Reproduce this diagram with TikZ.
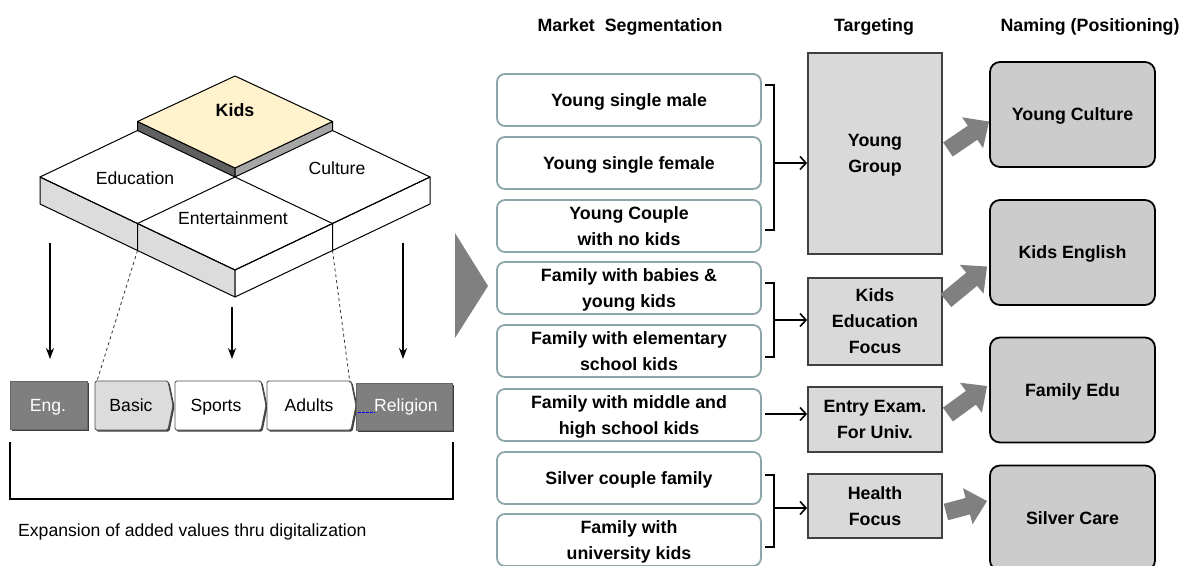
\documentclass[tikz,border=0pt]{standalone}
\usepackage{fontspec}
\setmainfont{Liberation Sans}
\usetikzlibrary{arrows.meta,calc}
\definecolor{segb}{HTML}{8CA5A8}
\definecolor{tgfill}{HTML}{D9D9D9}
\definecolor{tgdraw}{HTML}{404040}
\definecolor{nmfill}{HTML}{CCCCCC}
\definecolor{bigarrowc}{HTML}{808080}
\definecolor{kidsfill}{HTML}{FFF2CC}
\definecolor{sidegray}{HTML}{DCDCDC}
\definecolor{darkbox}{HTML}{7F7F7F}
\definecolor{kidsdark}{HTML}{606060}
\definecolor{kidsmid}{HTML}{A6A6A6}
\newcommand\mybf{\fontsize{17.8}{26}\selectfont\bfseries}
\newcommand\myrg{\fontsize{17.6}{22}\selectfont}
\tikzset{
  seg/.style={draw=segb, line width=1.8pt, rounded corners=8pt, fill=white,
    minimum width=264pt, minimum height=52pt, align=center, font=\mybf, inner sep=0pt, text depth=0pt},
  tgt/.style={draw=tgdraw, line width=1.8pt, fill=tgfill, minimum width=134pt,
    align=center, font=\mybf, inner sep=0pt, text depth=0pt},
  nm/.style={draw=black, line width=1.8pt, rounded corners=10pt, fill=nmfill,
    minimum width=165pt, minimum height=105pt, align=center, font=\mybf, inner sep=0pt, text depth=0pt},
  hdr/.style={font=\mybf, inner sep=0pt, text depth=0pt},
  lbl/.style={font=\myrg, inner sep=0pt, text depth=0pt},
  bracket/.style={line width=1.6pt},
  brarrow/.style={line width=1.6pt, -{Straight Barb[length=6pt,width=13pt]}},
  bigarrow/.style={line width=17pt, draw=bigarrowc, -{Triangle[length=20pt,width=36pt]}},
  downarr/.style={line width=1.8pt, -{Stealth[length=11pt,width=8pt]}},
  face/.style={draw=black, line width=1pt, line join=round},
  chev/.style={draw=black!70, line width=0.9pt, rounded corners=1.5pt},
  chevshadow/.style={fill=black!75, rounded corners=1.5pt},
}
\begin{document}
\begin{tikzpicture}[x=1pt,y=-1pt]
\useasboundingbox (0,0) rectangle (1190,565);

% ---------- isometric block ----------
\fill[white] (40,177) -- (235,84) -- (430,177) -- (235,270) -- cycle;
\filldraw[face, fill=sidegray] (40,177) -- (137.5,223.5) -- (137.5,250.5) -- (40,204) -- cycle;
\filldraw[face, fill=sidegray] (137.5,223.5) -- (235,270) -- (235,297) -- (137.5,250.5) -- cycle;
\filldraw[face, fill=white] (235,270) -- (332.5,223.5) -- (332.5,250.5) -- (235,297) -- cycle;
\filldraw[face, fill=white] (332.5,223.5) -- (430,177) -- (430,204) -- (332.5,250.5) -- cycle;
\draw[face] (40,177) -- (235,84) -- (430,177) -- (235,270) -- cycle;
\draw[face] (235,177) -- (137.5,223.5);
\draw[face] (235,177) -- (332.5,223.5);
\filldraw[face, fill=kidsdark] (137.5,121.5) -- (235,168) -- (235,177) -- (137.5,130.5) -- cycle;
\filldraw[face, fill=kidsmid] (235,168) -- (332.5,121.5) -- (332.5,130.5) -- (235,177) -- cycle;
\filldraw[face, fill=kidsfill] (137.5,121.5) -- (235,76) -- (332.5,121.5) -- (235,168) -- cycle;

\node[lbl, font=\mybf] (kids) at (235,110) {Kids};
\node[lbl] (edu) at (135,178) {Education};
\node[lbl] (cul) at (337,168) {Culture};
\node[lbl] (ent) at (233,218) {Entertainment};

% ---------- bottom row ----------
\fill[black!75] (11.5,382.5) rectangle (88.5,430.5);
\filldraw[draw=black!60, line width=0.8pt, fill=darkbox] (10,381) rectangle (87,429);
\node[lbl, text=white] (eng) at (48,405) {Eng.};

\fill[chevshadow] (96.5,382.5) -- (169.5,382.5) -- (174.5,406.5) -- (169.5,431.5) -- (96.5,431.5) -- cycle;
\filldraw[chev, fill=sidegray] (95,381) -- (168,381) -- (173,405.5) -- (168,430) -- (95,430) -- cycle;
\node[lbl] (basic) at (131,405) {Basic};

\fill[chevshadow] (176.5,382.5) -- (262.5,382.5) -- (267.5,406.5) -- (262.5,431.5) -- (176.5,431.5) -- cycle;
\filldraw[chev, fill=white] (175,381) -- (261,381) -- (266,405.5) -- (261,430) -- (175,430) -- cycle;
\node[lbl] (sports) at (216,405) {Sports};

\fill[chevshadow] (268.5,382.5) -- (352.5,382.5) -- (357.5,406.5) -- (352.5,431.5) -- (268.5,431.5) -- cycle;
\filldraw[chev, fill=white] (267,381) -- (351,381) -- (356,405.5) -- (351,430) -- (267,430) -- cycle;
\node[lbl] (adults) at (309,405) {Adults};

\fill[black!75] (357.5,384.5) rectangle (453.5,431.5);
\filldraw[draw=black!60, line width=0.8pt, fill=darkbox] (356,383) rectangle (452,430);
\draw[blue, line width=1pt, dash pattern=on 2.5pt off 1.5pt] (358,412) -- (375,412);
\node[lbl, text=white] (rel) at (406,405) {Religion};

\coordinate (d1s) at (137.5,250.5);
\coordinate (d1e) at (97,381);
\coordinate (d2s) at (332.5,250.5);
\coordinate (d2e) at (350,383);
\draw[dashed, line width=0.8pt, black!80] (d1s) -- (d1e);
\draw[dashed, line width=0.8pt, black!80] (d2s) -- (d2e);

\coordinate (ar1s) at (50,243); \coordinate (ar1e) at (50,359);
\coordinate (ar2s) at (232,307); \coordinate (ar2e) at (232,359);
\coordinate (ar3s) at (403,243); \coordinate (ar3e) at (403,359);
\draw[downarr] (ar1s) -- (ar1e);
\draw[downarr] (ar2s) -- (ar2e);
\draw[downarr] (ar3s) -- (ar3e);

\draw[line width=1.8pt] (10,442) -- (10,499) -- (453,499) -- (453,442);
\node[lbl, anchor=west] (exp) at (18,530) {Expansion of added values thru digitalization};

\fill[bigarrowc] (455,233) -- (488,286) -- (455,338) -- cycle;

% ---------- headers ----------
\node[hdr] (h1) at (630,25) {Market\ \ Segmentation};
\node[hdr] (h2) at (874,25) {Targeting};
\node[hdr] (h3) at (1090,25) {Naming (Positioning)};

% ---------- segmentation boxes ----------
\node[seg] (s1) at (629,100) {Young single male};
\node[seg] (s2) at (629,163) {Young single female};
\node[seg] (s3) at (629,226) {Young Couple\\with no kids};
\node[seg] (s4) at (629,288) {Family with babies \&\\young kids};
\node[seg] (s5) at (629,351) {Family with elementary\\school kids};
\node[seg] (s6) at (629,415) {Family with middle and\\high school kids};
\node[seg] (s7) at (629,478) {Silver couple family};
\node[seg] (s8) at (629,540) {Family with\\university kids};

% ---------- targeting boxes ----------
\node[tgt, minimum height=201pt] (yg) at (875,153.5) {Young\\Group};
\node[tgt, minimum height=87pt] (kef) at (875,321.5) {Kids\\Education\\Focus};
\node[tgt, minimum height=65pt] (eeu) at (875,419.5) {Entry Exam.\\For Univ.};
\node[tgt, minimum height=64pt] (hf) at (875,506) {Health\\Focus};

% ---------- naming boxes ----------
\node[nm] (yc) at (1072.5,114.5) {Young Culture};
\node[nm] (ke) at (1072.5,252.5) {Kids English};
\node[nm] (fe) at (1072.5,390) {Family Edu};
\node[nm] (sc) at (1072.5,518) {Silver Care};

% ---------- brackets ----------
\draw[bracket] (765,85) -- (774,85) -- (774,230) -- (765,230);
\coordinate (b1) at (774,163);
\draw[brarrow] (b1) -- (b1 -| yg.west);

\draw[bracket] (765,283) -- (774,283) -- (774,357) -- (765,357);
\coordinate (b2) at (774,320);
\draw[brarrow] (b2) -- (b2 -| kef.west);

\coordinate (b3) at (765,414);
\draw[brarrow] (b3) -- (b3 -| eeu.west);

\draw[bracket] (765,475) -- (774,475) -- (774,547) -- (765,547);
\coordinate (b4) at (774,508);
\draw[brarrow] (b4) -- (b4 -| hf.west);

% ---------- big arrows ----------
\draw[bigarrow] ($(yg.east)+(5,-4)$) -- ($(yc.west)+(0,7)$);
\draw[bigarrow] ($(kef.east)+(3,-21)$) -- ($(ke.west)+(-2,14)$);
\draw[bigarrow] ($(eeu.east)+(5,-5)$) -- ($(fe.west)+(-2,-4)$);
\draw[bigarrow] ($(hf.east)+(3,6)$) -- ($(sc.west)+(-2,-17)$);
\end{tikzpicture}
\end{document}
